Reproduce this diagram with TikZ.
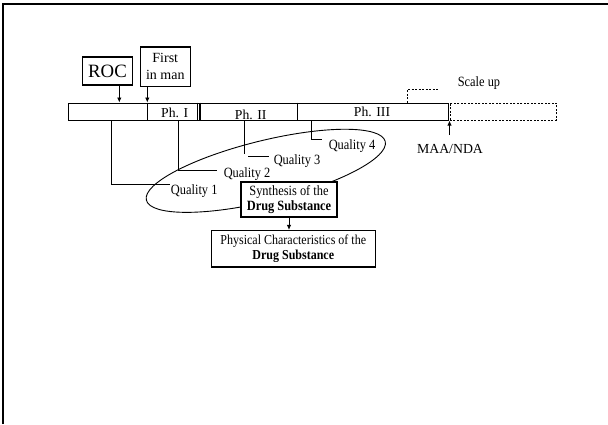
\documentclass[tikz,border=0pt]{standalone}
\usepackage{fontspec}
\setmainfont{Liberation Serif}
\usetikzlibrary{shapes.geometric,arrows.meta}
% slightly tall lettering for the small labels
\newcommand{\tl}[1]{\scalebox{1}[1.14]{#1}}

\begin{document}
\begin{tikzpicture}[x=1pt,y=-1pt, line width=0.9pt,
  box/.style={draw, line width=1.1pt, inner sep=0pt, fill=white},
  lbl/.style={inner sep=0pt, anchor=base, font=\fontsize{12.4}{15}\selectfont},
  phl/.style={inner sep=0pt, anchor=base, font=\fontsize{13.7}{15}\selectfont},
  tip/.style={-{Latex[length=5pt,width=4.5pt]}},
  dsh/.style={line width=0.8pt, dash pattern=on 2pt off 1.5pt}
]
\useasboundingbox (0,0) rectangle (608,424);

% slide frame
\draw[line width=1.3pt] (3,424) -- (3,4) -- (608,4);

% development time line
\node[draw, line width=1.1pt, inner sep=0pt, minimum width=380pt, minimum height=17pt,
      anchor=north west] (bar) at (67.5,102.5) {};
\node[draw, dsh, inner sep=0pt, minimum width=106.5pt, minimum height=17pt,
      anchor=north west] (later) at (449.5,102.5) {};
\foreach \dx in {80,130,132.5,230}
  \draw[line width=1.1pt] ([xshift=\dx pt]bar.north west) -- ([xshift=\dx pt]bar.south west);

\node[phl] (p1) at (174.7,117.3) {Ph. I};
\node[phl] (p2) at (250.7,119.8) {Ph. II};
\node[phl] (p3) at (372,116.7) {Ph. III};

% milestones
\node[box, minimum width=50pt, minimum height=28pt,
      font=\fontsize{18.8}{20}\selectfont] (roc) at (107.5,71) {ROC};
\node[box, minimum width=50.5pt, minimum height=39.5pt, align=center,
      font=\fontsize{14}{16.7}\selectfont] (fim) at (165.3,66.7) {First\\in man};
\draw[tip] ([xshift=11.8pt]roc.south) -- ([xshift=11.8pt]roc.south |- bar.north);
\draw[tip] ([xshift=-18pt]fim.south) -- ([xshift=-18pt]fim.south |- bar.north);

% scale up
\coordinate (su) at (437.7,89.3);
\draw[dsh] ([xshift=339.8pt]bar.north west) |- (su);
\node[lbl] (sul) at (479,86.7) {\tl{Scale up}};

% approval
\coordinate (ma) at (449.5,135);
\draw[tip] (ma) -- (ma |- bar.south);
\node[inner sep=0pt, anchor=base, font=\fontsize{13.8}{15}\selectfont] (maa) at (450,153.3) {MAA/NDA};

% quality ring
\node[draw, ellipse, inner sep=0pt, minimum width=246pt, minimum height=60.6pt,
      rotate=13.8] (ring) at (265.8,170.8) {};

% quality levels
\node[lbl, anchor=base west] (q1) at (170.5,194.3) {\tl{Quality 1}};
\node[lbl, anchor=base west] (q2) at (223.3,177) {\tl{Quality 2}};
\node[lbl, anchor=base west] (q3) at (273.3,164.6) {\tl{Quality 3}};
\node[lbl, anchor=base west] (q4) at (328.3,149.6) {\tl{Quality 4}};

\coordinate (k1) at (170,184);
\coordinate (k2) at (217.3,170);
\coordinate (k3a) at (244.3,153.5);
\coordinate (k3b) at (248.3,156.7);
\coordinate (k3c) at (269.3,156.7);
\coordinate (k4) at (322,139);
\draw ([xshift=44.2pt]bar.south west) |- (k1);
\draw ([xshift=110.8pt]bar.south west) |- (k2);
\draw ([xshift=176.8pt]bar.south west) -- (k3a);
\draw (k3b) -- (k3c);
\draw ([xshift=243.7pt]bar.south west) |- (k4);

% synthesis and characterisation
\node[box, minimum width=96pt, minimum height=35pt, align=center,
      font=\fontsize{12.4}{15.5}\selectfont] (synth) at (289,199.5)
      {\tl{Synthesis of the}\\\tl{\textbf{Drug Substance}}};
\node[box, minimum width=163.5pt, minimum height=36.5pt, align=center,
      font=\fontsize{12}{15}\selectfont] (phys) at (293.3,248.7)
      {\tl{Physical Characteristics of the}\\\tl{\textbf{Drug Substance}}};
\draw[tip] (synth.south) -- (synth.south |- phys.north);

\end{tikzpicture}
\end{document}
